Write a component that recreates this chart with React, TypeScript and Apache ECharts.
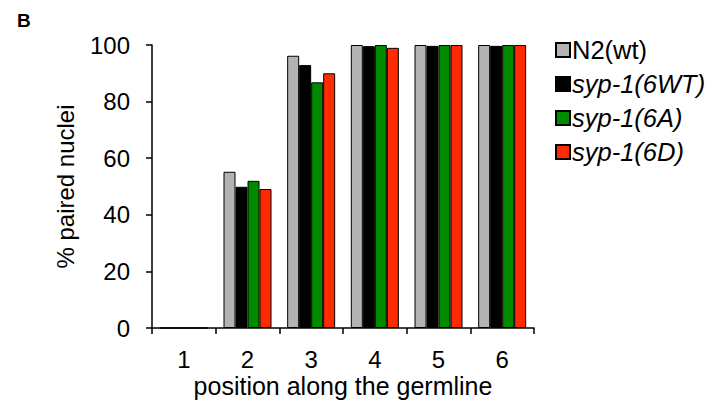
import React, { useEffect, useRef } from "react";
import * as echarts from "echarts";

const categories = ["1", "2", "3", "4", "5", "6"];
const seriesNames = ["N2(wt)", "syp-1(6WT)", "syp-1(6A)", "syp-1(6D)"];
const n2wt = [0, 55.2, 96.2, 100, 100, 100];
const syp6WT = [0, 49.9, 92.9, 99.6, 99.7, 99.7];
const syp6A = [0, 52.0, 86.8, 100, 100, 100];
const syp6D = [0, 49.1, 90.0, 99.0, 100, 100];
const yTicks = [0, 20, 40, 60, 80, 100];

const colors = ["#b3b3b3", "#000000", "#008a00", "#ff2a00"];
const FONT = "Liberation Sans, Arial, sans-serif";

export default function App() {
  const ref = useRef<HTMLDivElement>(null);
  useEffect(() => {
    if (!ref.current) return;
    const chart = echarts.init(ref.current, undefined, { renderer: "svg" });
    const values = [n2wt, syp6WT, syp6A, syp6D];
    chart.setOption({
      animation: false,
      backgroundColor: "#ffffff",
      textStyle: { fontFamily: FONT },
      graphic: [
        {
          type: "text",
          left: 17,
          top: 11,
          style: { text: "B", font: "bold 19px " + FONT, fill: "#000" },
        },
      ],
      legend: {
        orient: "vertical",
        left: 555,
        top: 37,
        padding: 0,
        icon: "rect",
        itemWidth: 14,
        itemHeight: 14,
        itemGap: 8,
        textStyle: { fontSize: 25.5, color: "#000", fontFamily: FONT, padding: [0, 0, 0, -3] },
        data: seriesNames.map((n, i) => ({
          name: n,
          textStyle: { fontStyle: i === 0 ? "normal" : "italic" },
        })),
      },
      grid: { left: 152, right: 179, top: 45, bottom: 72, outerBoundsMode: "none" },
      xAxis: {
        type: "category",
        data: categories,
        boundaryGap: true,
        axisLine: { lineStyle: { color: "#000", width: 1.5 } },
        axisTick: { show: true, length: 6, alignWithLabel: false, lineStyle: { color: "#000", width: 1.5 } },
        axisLabel: { fontSize: 24, color: "#000", margin: 19 },
        name: "position along the germline",
        nameLocation: "middle",
        nameGap: 45,
        nameMoveOverlap: false,
        nameTextStyle: { fontSize: 25, color: "#000" },
      },
      yAxis: {
        type: "value",
        min: 0,
        max: 100,
        interval: 20,
        axisLine: { show: true, lineStyle: { color: "#000", width: 1.5 } },
        axisTick: { show: true, length: 6, lineStyle: { color: "#000", width: 1.5 } },
        splitLine: { show: false },
        axisLabel: {
          fontSize: 24,
          color: "#000",
          margin: 22,
          formatter: (v: number) => (yTicks.includes(v) ? String(v) : ""),
        },
        name: "% paired nuclei",
        nameLocation: "middle",
        nameGap: 75,
        nameRotate: 90,
        nameMoveOverlap: false,
        nameTextStyle: { fontSize: 24, color: "#000" },
      },
      series: seriesNames.map((n, i) => ({
        name: n,
        type: "bar",
        data: values[i],
        barWidth: 12,
        barGap: "0%",
        itemStyle: { color: colors[i], borderColor: "#000", borderWidth: 1 },
      })),
    });
    return () => chart.dispose();
  }, []);
  return (
    <div
      ref={ref}
      style={{ position: "absolute", left: 0, top: 0, width: 713, height: 400 }}
    />
  );
}
